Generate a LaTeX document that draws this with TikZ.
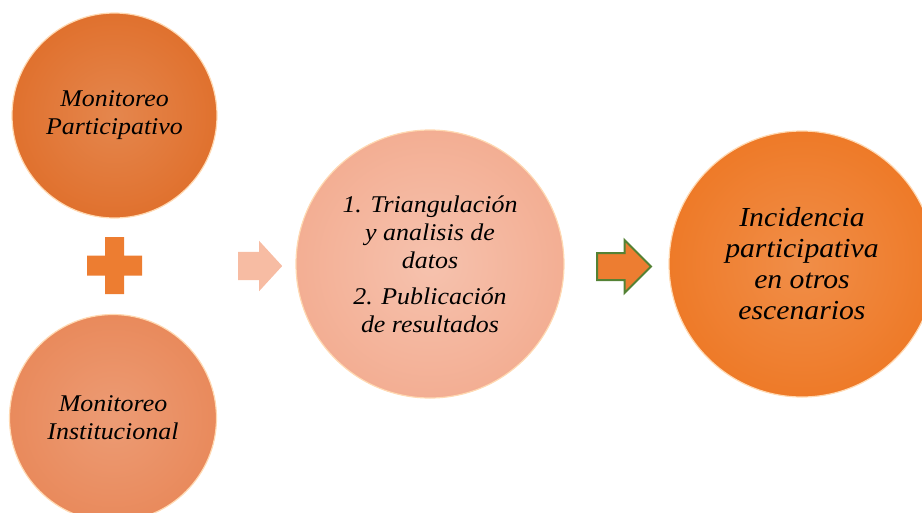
\documentclass[tikz,border=0pt]{standalone}
\usepackage{fontspec}
\usepackage{tikz}
\usetikzlibrary{shapes.arrows}
\setmainfont{Liberation Serif}
\newfontfamily\diagfont{Liberation Serif}[FakeStretch=1.08]

\definecolor{darkorange}{HTML}{E0712E}
\definecolor{midorange}{HTML}{E98A5C}
\definecolor{paleorange}{HTML}{F3AE93}
\definecolor{brightorange}{HTML}{EE7A28}
\definecolor{arroworange}{HTML}{ED7D31}
\definecolor{palearrow}{HTML}{F7BCA3}
\definecolor{arrowgreen}{HTML}{548235}

\tikzset{
  ball/.style={circle, inner sep=0pt, minimum size=#1, align=center,
    draw=white!70!orange, line width=1.2pt},
  stage/.style={font=\diagfont\itshape\fontsize{24}{28}\selectfont},
  bigstage/.style={font=\diagfont\itshape\fontsize{27.5}{31}\selectfont},
  flow/.style={single arrow, inner xsep=0pt, single arrow head extend=#1,
    single arrow tip angle=95, anchor=west}
}

\begin{document}
\begin{tikzpicture}[x=1pt, y=-1pt]
  \useasboundingbox (0,0) rectangle (922,512);

  % Inputs
  \node[ball=205pt, stage, inner color=darkorange!85!white, outer color=darkorange]
    (partic) at (114.5,115.5) {Monitoreo\\Participativo};
  \node[ball=207pt, stage, inner color=midorange!85!white, outer color=midorange]
    (instit) at (113,418) {Monitoreo\\Institucional};

  % Plus sign
  \coordinate (plus) at (114.5,265.5);
  \fill[arroworange, shift={(plus)}]
    (-9.5,-28.5) rectangle (9.5,28.5)
    (-27.5,-10) rectangle (27.5,10);

  % Processing
  \node[ball=268pt, stage, inner color=paleorange!75!white, outer color=paleorange]
    (proceso) at (430,264)
    {1. Triangulación\\y analisis de\\datos\\[8pt]2. Publicación\\de resultados};

  % Result
  \node[ball=266pt, bigstage, inner color=brightorange!85!white, outer color=brightorange]
    (incidencia) at (802,264)
    {Incidencia\\participativa\\en otros\\escenarios};

  % Arrows
  \node[flow=11pt, fill=palearrow, minimum height=44pt, inner ysep=14pt]
    (flecha1) at (238,266) {};
  \node[flow=13pt, fill=arroworange, draw=arrowgreen, line width=2pt,
    minimum height=54pt, inner ysep=12.5pt, single arrow tip angle=90]
    (flecha2) at (596,266.5) {};
\end{tikzpicture}
\end{document}
